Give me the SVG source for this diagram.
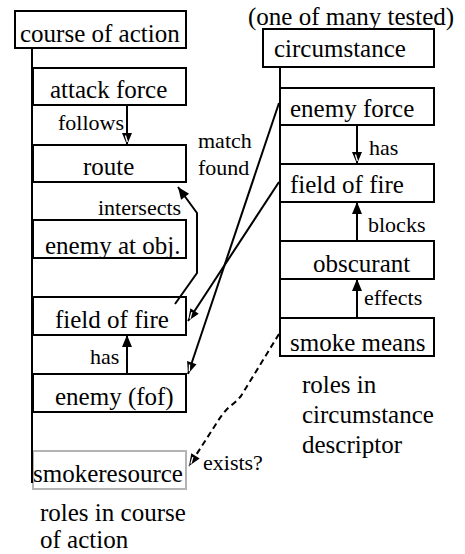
<svg xmlns="http://www.w3.org/2000/svg" width="465" height="554" viewBox="0 0 465 554">
  <style>
    .box { fill: #fff; stroke: #000; stroke-width: 2; }
    .gray { fill: #fff; stroke: #b4b4b4; stroke-width: 2; }
    .ln { fill: none; stroke: #000; stroke-width: 2; }
    .dash { fill: none; stroke: #000; stroke-width: 2; stroke-dasharray: 6 4; }
    .t { font-family: "Liberation Serif", serif; font-size: 25px; fill: #000; }
    .lbl { font-family: "Liberation Serif", serif; font-size: 22px; fill: #000; }
  </style>
  <defs>
    <marker id="solid" markerUnits="userSpaceOnUse" markerWidth="14" markerHeight="12" refX="13" refY="6" orient="auto">
      <path d="M1,1 L13,6 L1,11 z" fill="#000"/>
    </marker>
    <!-- slit arrowhead: black head with a thin light notch -->
    <marker id="open" markerUnits="userSpaceOnUse" markerWidth="14" markerHeight="12" refX="13" refY="6" orient="auto">
      <path d="M1,1 L13,6 L1,11 z" fill="#000"/>
      <path d="M3.5,7.6 L10,5.6" stroke="#fff" stroke-width="1.3"/>
    </marker>
  </defs>

  <!-- course of action column -->
  <g id="course-of-action">
    <rect class="box" x="15" y="11" width="171" height="37"/>
    <text class="t" x="20" y="42">course of action</text>
  </g>
  <g id="attack-force">
    <rect class="box" x="33" y="68" width="153" height="37"/>
    <text class="t" x="50" y="98">attack force</text>
  </g>
  <g id="route">
    <rect class="box" x="33" y="145" width="153" height="37"/>
    <text class="t" x="83" y="175">route</text>
  </g>
  <g id="enemy-at-obj">
    <rect class="box" x="33" y="220" width="153" height="38"/>
    <text class="t" x="45" y="254">enemy at obj.</text>
  </g>
  <g id="field-of-fire-coa">
    <rect class="box" x="33" y="297" width="153" height="38"/>
    <text class="t" x="55" y="328">field of fire</text>
  </g>
  <g id="enemy-fof">
    <rect class="box" x="33" y="374" width="153" height="38"/>
    <text class="t" x="55" y="405">enemy (fof)</text>
  </g>
  <g id="smokeresource">
    <rect class="gray" x="33" y="451" width="153" height="38"/>
    <text class="t" x="33" y="482">smokeresource</text>
  </g>

  <!-- circumstance column -->
  <g id="circumstance">
    <rect class="box" x="263" y="29" width="171" height="38"/>
    <text class="t" x="274" y="57">circumstance</text>
  </g>
  <g id="enemy-force">
    <rect class="box" x="280" y="88" width="154" height="37"/>
    <text class="t" x="290" y="117">enemy force</text>
  </g>
  <g id="field-of-fire-circ">
    <rect class="box" x="280" y="164" width="154" height="38"/>
    <text class="t" x="290" y="193">field of fire</text>
  </g>
  <g id="obscurant">
    <rect class="box" x="280" y="241" width="154" height="38"/>
    <text class="t" x="313" y="272">obscurant</text>
  </g>
  <g id="smoke-means">
    <rect class="box" x="280" y="318" width="154" height="38"/>
    <text class="t" x="290" y="351">smoke means</text>
  </g>

  <!-- captions -->
  <g id="captions">
    <text class="t" x="248" y="25">(one of many tested)</text>
    <text class="t" x="40" y="521">roles in course</text>
    <text class="t" x="40" y="548">of action</text>
    <text class="t" x="302" y="393">roles in</text>
    <text class="t" x="302" y="423">circumstance</text>
    <text class="t" x="302" y="453">descriptor</text>
  </g>

  <!-- connectors -->
  <g id="connectors">
    <line class="ln" x1="32" y1="48" x2="32" y2="483"/>
    <line class="ln" x1="280" y1="67" x2="280" y2="318"/>

    <line class="ln" x1="127" y1="105" x2="127" y2="145" marker-end="url(#open)"/>
    <text class="lbl" x="58" y="130">follows</text>

    <path class="ln" d="M175,304 L197,273 L197,213 L178,187" marker-end="url(#solid)"/>
    <text class="lbl" x="98" y="215">intersects</text>

    <line class="ln" x1="127" y1="374" x2="127" y2="335" marker-end="url(#solid)"/>
    <text class="lbl" x="90" y="364">has</text>

    <line class="ln" x1="279" y1="103" x2="188" y2="374" marker-end="url(#open)"/>
    <line class="ln" x1="279" y1="182" x2="188" y2="321" marker-end="url(#open)"/>
    <text class="lbl" x="198" y="148">match</text>
    <text class="lbl" x="198" y="175">found</text>

    <line class="ln" x1="357" y1="125" x2="357" y2="164" marker-end="url(#open)"/>
    <text class="lbl" x="369" y="155">has</text>

    <line class="ln" x1="357" y1="241" x2="357" y2="202" marker-end="url(#solid)"/>
    <text class="lbl" x="368" y="232">blocks</text>

    <line class="ln" x1="357" y1="318" x2="357" y2="279" marker-end="url(#solid)"/>
    <text class="lbl" x="364" y="305">effects</text>

    <path class="dash" d="M279,334 L241,396 Q236,402 229,407 Q222,414 216,424 L189,466" marker-end="url(#open)"/>
    <text class="lbl" x="203" y="470">exists?</text>
  </g>
</svg>
